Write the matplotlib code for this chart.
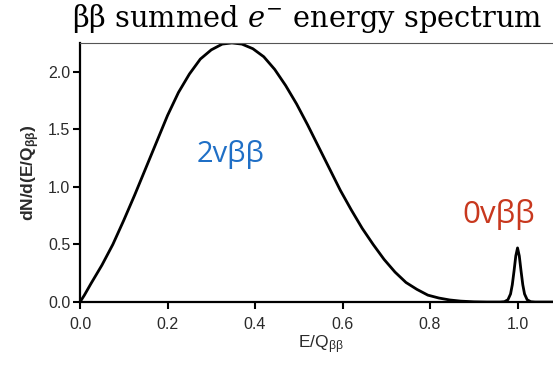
import matplotlib
matplotlib.use("Agg")
import matplotlib.pyplot as plt

plt.rcParams["mathtext.fontset"] = "dejavuserif"

# values (2vbb continuum, then the 0vbb line at Q)
e_frac = [0.0, 0.01, 0.025, 0.05, 0.075, 0.1, 0.125, 0.15, 0.175, 0.2,
          0.225, 0.25, 0.275, 0.3, 0.325, 0.347, 0.37, 0.395, 0.42, 0.445,
          0.47, 0.495, 0.52, 0.545, 0.57, 0.595, 0.62, 0.645, 0.67, 0.695,
          0.72, 0.745, 0.77, 0.795, 0.82, 0.845, 0.87, 0.9, 0.93, 0.96,
          0.97, 0.978, 0.984, 0.988, 0.992, 0.996, 1.0, 1.004, 1.008, 1.012,
          1.016, 1.022, 1.03, 1.04, 1.1]
dn_de = [0.0, 0.06, 0.16, 0.32, 0.50, 0.71, 0.93, 1.16, 1.39, 1.62,
         1.82, 1.98, 2.11, 2.19, 2.24, 2.25, 2.24, 2.20, 2.13, 2.02,
         1.88, 1.72, 1.54, 1.35, 1.16, 0.97, 0.80, 0.64, 0.50, 0.37,
         0.26, 0.17, 0.11, 0.06, 0.035, 0.018, 0.008, 0.002, 0.0, 0.0,
         0.003, 0.02, 0.07, 0.15, 0.27, 0.40, 0.47, 0.40, 0.27, 0.15,
         0.07, 0.02, 0.003, 0.0, 0.0]
x_ticks = [0.0, 0.2, 0.4, 0.6, 0.8, 1.0]
y_ticks = [0.0, 0.5, 1.0, 1.5, 2.0]

fig = plt.figure(figsize=(5.53, 3.67), dpi=100)
ax = fig.add_axes([0.1447, 0.177, 1.015 - 0.1447, 0.883 - 0.177])

ax.plot(e_frac, dn_de, color="black", linewidth=2.0,
        solid_joinstyle="round", solid_capstyle="round")
ax.set_xlim(0, 1.1)
ax.set_ylim(0, 2.25)
ax.set_xticks(x_ticks)
ax.set_yticks(y_ticks)
ax.set_xticklabels([f"{v:.1f}" for v in x_ticks])
ax.set_yticklabels([f"{v:.1f}" for v in y_ticks])

for s in ["left", "bottom"]:
    ax.spines[s].set_linewidth(1.6)
ax.spines["top"].set_linewidth(0.8)
ax.spines["top"].set_color("#555555")
ax.spines["right"].set_visible(False)
ax.tick_params(direction="out", length=5, width=1.5, labelsize=11.5,
               labelcolor="#2a2a2a")
ax.tick_params(axis="x", pad=6)
ax.tick_params(axis="y", pad=2)
for lab in ax.get_xticklabels() + ax.get_yticklabels():
    lab.set_fontfamily("Liberation Sans")

ax.set_xlabel("E/Q$\\mathregular{_{ββ}}$", fontsize=12.5, color="#2a2a2a",
              family="Liberation Sans", labelpad=1)
ax.set_ylabel("dN/d(E/Q$\\mathregular{_{ββ}}$)", fontsize=12.5, color="#2a2a2a",
              family="Liberation Sans", fontweight="bold", labelpad=4)

ax.text(0.267, 1.22, "2vββ", color="#1f6fc6", fontsize=21,
        family="Open Sans", ha="left", va="baseline")
ax.text(0.874, 0.69, "0vββ", color="#c8381e", fontsize=22.5,
        family="Open Sans", ha="left", va="baseline")

fig.text(72 / 553, 1 - 27 / 367, "ββ summed $e^{-}$ energy spectrum",
         fontsize=20.8, family="DejaVu Serif", ha="left", va="baseline")

fig.savefig("out.png", dpi=100)
